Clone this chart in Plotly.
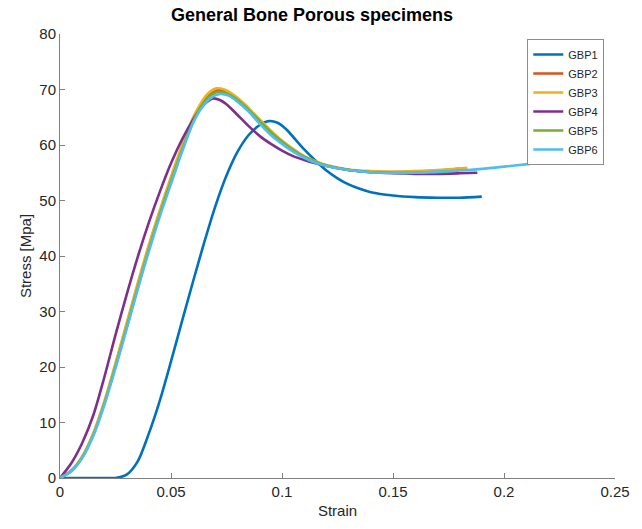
import plotly.graph_objects as go

names = ["GBP1", "GBP2", "GBP3", "GBP4", "GBP5", "GBP6"]
colors = ["#0072BD", "#D95319", "#EDB120", "#7E2F8E", "#77AC30", "#4DBEEE"]

gbp1_x = [0, 0.01, 0.02, 0.025, 0.03, 0.035, 0.04, 0.045, 0.05, 0.055, 0.06, 0.065, 0.07, 0.075, 0.08, 0.085, 0.09, 0.094, 0.098, 0.102, 0.106, 0.11, 0.115, 0.12, 0.125, 0.13, 0.135, 0.14, 0.15, 0.16, 0.17, 0.18, 0.19]
gbp1_y = [0, 0, 0, 0, 0.6, 3.0, 8.0, 14.0, 21.0, 28.3, 35.5, 42.5, 49.0, 54.5, 58.8, 61.8, 63.6, 64.3, 64.0, 62.8, 61.0, 59.2, 57.2, 55.4, 54.0, 52.9, 52.1, 51.5, 50.9, 50.6, 50.5, 50.5, 50.7]

gbp2_x = [0, 0.005, 0.01, 0.015, 0.02, 0.025, 0.03, 0.035, 0.04, 0.045, 0.05, 0.055, 0.06, 0.064, 0.067, 0.071, 0.075, 0.079, 0.083, 0.087, 0.091, 0.095, 0.1, 0.105, 0.11, 0.115, 0.12, 0.13, 0.14, 0.15, 0.16, 0.17, 0.183]
gbp2_y = [0, 1.3, 3.8, 7.9, 13.6, 20.4, 27.5, 34.7, 41.6, 47.9, 53.8, 59.5, 64.6, 67.5, 68.9, 69.9, 69.6, 68.7, 67.3, 65.7, 64.0, 62.3, 60.6, 59.1, 57.9, 57.0, 56.3, 55.5, 55.2, 55.1, 55.2, 55.4, 55.8]

gbp3_x = [0, 0.005, 0.01, 0.015, 0.02, 0.025, 0.03, 0.035, 0.04, 0.045, 0.05, 0.055, 0.06, 0.064, 0.067, 0.0705, 0.074, 0.078, 0.082, 0.086, 0.09, 0.095, 0.1, 0.105, 0.11, 0.115, 0.12, 0.13, 0.14, 0.15, 0.16, 0.17, 0.1835]
gbp3_y = [0, 1.3, 3.9, 8.1, 13.9, 20.7, 27.9, 35.1, 42.0, 48.3, 54.3, 60.0, 65.0, 67.9, 69.4, 70.2, 70.0, 69.1, 67.8, 66.2, 64.6, 62.6, 60.8, 59.3, 58.0, 57.1, 56.4, 55.6, 55.3, 55.2, 55.3, 55.5, 55.9]

gbp4_x = [0, 0.005, 0.01, 0.015, 0.02, 0.025, 0.03, 0.035, 0.04, 0.045, 0.05, 0.055, 0.06, 0.063, 0.066, 0.069, 0.072, 0.076, 0.08, 0.085, 0.09, 0.095, 0.1, 0.105, 0.11, 0.115, 0.12, 0.13, 0.14, 0.15, 0.16, 0.17, 0.18, 0.188]
gbp4_y = [0, 2.6, 6.3, 11.3, 18.2, 25.8, 33.0, 39.8, 46.0, 51.6, 56.7, 61.0, 64.6, 66.4, 67.7, 68.4, 68.1, 67.0, 65.4, 63.4, 61.6, 60.2, 59.0, 58.0, 57.3, 56.7, 56.2, 55.5, 55.1, 54.9, 54.8, 54.8, 54.9, 55.0]

gbp5_x = [0, 0.005, 0.01, 0.015, 0.02, 0.025, 0.03, 0.035, 0.04, 0.045, 0.05, 0.055, 0.06, 0.064, 0.068, 0.0715, 0.075, 0.079, 0.083, 0.087, 0.091, 0.095, 0.1, 0.105, 0.11, 0.115, 0.12, 0.13, 0.14, 0.15, 0.16, 0.175]
gbp5_y = [0, 1.2, 3.7, 7.7, 13.4, 20.1, 27.1, 34.3, 41.2, 47.6, 53.5, 59.1, 64.2, 67.2, 69.0, 69.6, 69.3, 68.4, 67.1, 65.5, 63.9, 62.3, 60.6, 59.1, 57.9, 57.0, 56.3, 55.5, 55.1, 55.0, 55.0, 55.2]

gbp6_x = [0, 0.005, 0.01, 0.015, 0.02, 0.025, 0.03, 0.035, 0.04, 0.045, 0.05, 0.055, 0.06, 0.064, 0.068, 0.072, 0.076, 0.08, 0.085, 0.09, 0.095, 0.1, 0.105, 0.11, 0.115, 0.12, 0.13, 0.14, 0.15, 0.16, 0.17, 0.18, 0.19, 0.2, 0.2117]
gbp6_y = [0, 1.2, 3.6, 7.6, 13.2, 19.8, 26.8, 34.0, 40.8, 47.2, 53.0, 58.8, 64.0, 66.8, 68.5, 69.2, 68.9, 67.8, 66.0, 63.8, 61.8, 60.2, 58.8, 57.7, 56.8, 56.2, 55.5, 55.1, 55.0, 55.0, 55.2, 55.4, 55.7, 56.1, 56.6]

xs = [gbp1_x, gbp2_x, gbp3_x, gbp4_x, gbp5_x, gbp6_x]
ys = [gbp1_y, gbp2_y, gbp3_y, gbp4_y, gbp5_y, gbp6_y]

x_ticks = [0, 0.05, 0.1, 0.15, 0.2, 0.25]
x_tick_labels = ["0", "0.05", "0.1", "0.15", "0.2", "0.25"]
y_ticks = [0, 10, 20, 30, 40, 50, 60, 70, 80]

fig = go.Figure()
for n, c, x, y in zip(names, colors, xs, ys):
    fig.add_trace(go.Scatter(x=x, y=y, mode="lines", name=n,
                             line=dict(color=c, width=2.6, shape="spline", smoothing=0.8)))

font_fam = "Liberation Sans, Arial, sans-serif"
axis_col = "#808080"
fig.update_layout(
    width=642, height=529,
    margin=dict(l=60, r=19, t=34, b=51),
    paper_bgcolor="white", plot_bgcolor="white",
    font=dict(family=font_fam, color="#262626", size=15),
    title=dict(text="<b>General Bone Porous specimens</b>", x=312 / 642, xanchor="center",
               y=1 - 15 / 529, yanchor="middle", font=dict(size=18, color="#000000")),
    xaxis=dict(range=[0, 0.25], tickvals=x_ticks, ticktext=x_tick_labels,
               showline=True, linecolor=axis_col, linewidth=1, mirror=False,
               ticks="inside", ticklen=5, tickcolor=axis_col, showgrid=False, zeroline=False,
               tickfont=dict(size=15),
               title=dict(text="Strain", font=dict(size=15), standoff=6)),
    yaxis=dict(range=[0, 80], tickvals=y_ticks,
               showline=True, linecolor=axis_col, linewidth=1, mirror=False,
               ticks="inside", ticklen=5, tickcolor=axis_col, showgrid=False, zeroline=False,
               tickfont=dict(size=15),
               title=dict(text="Stress [Mpa]", font=dict(size=15), standoff=4)),
    legend=dict(x=(534 - 60) / 563, y=(478 - 39) / 444, xanchor="left", yanchor="top",
                bgcolor="white", bordercolor="#8c8c8c", borderwidth=1,
                font=dict(size=11, color="#262626"), tracegroupgap=0, itemwidth=30),
    showlegend=True,
)

fig.write_html("out.html")
